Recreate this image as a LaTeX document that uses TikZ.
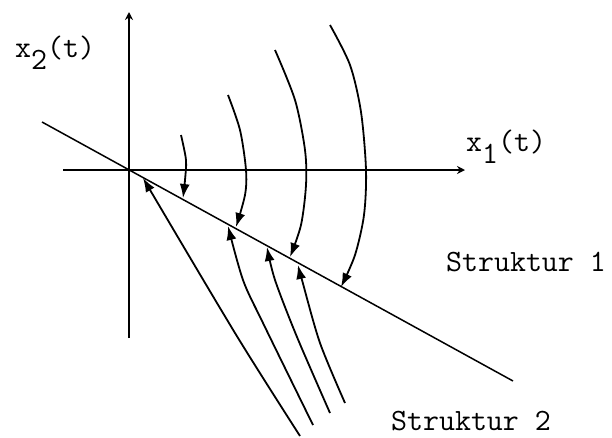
\documentclass[tikz,border=0pt]{standalone}
\usepackage{fontspec}
\usepackage{graphicx}
\usetikzlibrary{arrows.meta}
\tikzset{
  lbl/.style={font=\fontsize{31}{31}\selectfont\ttfamily, inner sep=0pt, anchor=base west},
  axis/.style={line width=1.8pt, -{Stealth[length=8pt,width=8pt]}},
  traj/.style={line width=1.8pt, -{Latex[length=14pt,width=10pt]}},
  switchline/.style={line width=1.5pt}
}
\begin{document}
\begin{tikzpicture}[x=1pt,y=-1pt]
\useasboundingbox (0,0) rectangle (612,437);
% axes
\coordinate (vb) at (129,338);
\coordinate (vt) at (129,12);
\coordinate (hl) at (63,170);
\coordinate (hr) at (465,170);
\draw[axis] (vb) -- (vt);
\draw[axis] (hl) -- (hr);
% switching line
\coordinate (sl) at (42,122);
\coordinate (sr) at (513,381);
\draw[switchline] (sl) -- (sr);
% Struktur 1 trajectories
\draw[traj] plot[smooth] coordinates {(181,135) (186,160) (185,180) (183,198)};
\draw[traj] plot[smooth] coordinates {(228,95) (240,130) (246,170) (245,195) (236,227)};
\draw[traj] plot[smooth] coordinates {(275,50) (295,100) (305,150) (306,185) (301,225) (290,257)};
\draw[traj] plot[smooth] coordinates {(330,25) (350,65) (361,112) (366,170) (364,215) (355,255) (341,287)};
% Struktur 2 trajectories
\draw[traj] plot[smooth] coordinates {(300,436) (235,333) (143,178)};
\draw[traj] plot[smooth] coordinates {(313,425) (263,323) (243,280) (228,226)};
\draw[traj] plot[smooth] coordinates {(330,413) (297,337) (275,280) (267,247)};
\draw[traj] plot[smooth] coordinates {(345,403) (320,343) (302,280) (298,265)};
% labels
\node[lbl] (x2) at (15,57) {x\raisebox{-0.4em}{2}(t)};
\node[lbl] (x1) at (466,151) {x\raisebox{-0.4em}{1}(t)};
\node[lbl] (s1) at (446,271) {Struktur 1};
\node[lbl] (s2) at (391,430) {Struktur 2};
\end{tikzpicture}
\end{document}
